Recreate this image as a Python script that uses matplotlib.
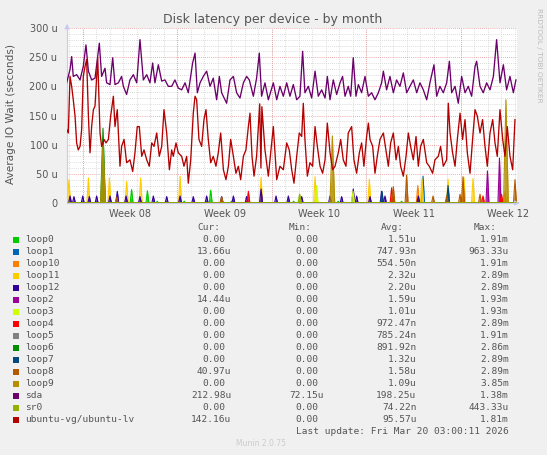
import numpy as np
import matplotlib.pyplot as plt
from matplotlib.patches import Rectangle

# time in days since Monday 2026-02-16 (start of Week 08), values in microseconds
sda_days = [-1.21, -0.96, -0.84, -0.72, -0.47, -0.22, 0.02, 0.22, 0.40, 0.64, 0.89, 1.21, 1.38, 1.63, 1.75,
            2.00, 2.20, 2.37, 2.62, 2.86, 2.99, 3.23, 3.48, 3.73, 3.98, 4.22, 4.47, 4.72, 4.96, 5.16, 5.33,
            5.58, 5.83, 6.07, 6.32, 6.57, 6.81, 7.06, 7.31, 7.56, 7.80, 8.12, 8.30, 8.47, 8.67, 8.91, 9.16,
            9.41, 9.65, 9.90, 10.10, 10.27, 10.52, 10.64, 10.89, 11.14, 11.38, 11.63, 11.88, 12.12, 12.32,
            12.62, 12.86, 13.06, 13.23, 13.48, 13.73, 14.10, 14.35, 14.59, 14.84, 15.09, 15.33, 15.58, 15.83,
            16.07, 16.27, 16.44, 16.69, 16.94, 17.19, 17.43, 17.68, 17.93, 18.10, 18.30, 18.54, 18.79, 19.04,
            19.23, 19.41, 19.65, 19.83, 20.02, 20.22, 20.40, 20.64, 20.89, 21.14, 21.38, 21.63, 21.88, 22.12,
            22.25, 22.49, 22.74, 22.99, 23.23, 23.48, 23.73, 23.98, 24.22, 24.47, 24.72, 24.96, 25.21, 25.46,
            25.70, 26.00, 26.20, 26.44, 26.69, 26.94, 27.14, 27.31, 27.56, 27.80, 28.05, 28.30, 28.54, 28.79,
            29.04, 29.16, 29.41, 29.65, 29.90, 30.15, 30.40, 30.64, 30.89, 31.14, 31.38, 31.63, 31.88, 32.07]
sda_vals = [206, 229, 251, 217, 220, 211, 234, 271, 226, 211, 214, 274, 217, 231, 206,
            203, 249, 203, 206, 217, 200, 186, 211, 220, 206, 280, 211, 220, 206, 240, 206,
            237, 209, 211, 200, 200, 211, 197, 194, 206, 189, 240, 257, 189, 206, 217, 226,
            200, 214, 177, 217, 189, 177, 171, 211, 217, 189, 180, 206, 217, 211,
            183, 214, 257, 183, 206, 177, 206, 177, 200, 183, 206, 183, 203, 177,
            183, 260, 189, 200, 180, 226, 183, 194, 180, 217, 177, 211, 186, 206,
            217, 183, 200, 183, 249, 183, 203, 189, 217, 183, 189, 177, 189, 206,
            226, 194, 217, 189, 211, 200, 223, 189, 200, 211, 189, 206, 194, 177,
            206, 237, 183, 200, 189, 206, 243, 189, 200, 171, 217, 189, 200, 183,
            234, 243, 200, 189, 206, 194, 217, 280, 206, 237, 194, 217, 189, 211]

lv_days = [-1.21, -1.09, -0.96, -0.84, -0.72, -0.59, -0.47, -0.35, -0.22, -0.10, 0.02, 0.15, 0.27, 0.40,
           0.52, 0.64, 0.77, 0.89, 1.09, 1.26, 1.38, 1.56, 1.70, 1.88, 2.05, 2.25, 2.37, 2.54, 2.74, 2.86,
           3.04, 3.23, 3.48, 3.68, 3.85, 4.02, 4.17, 4.35, 4.52, 4.72, 4.91, 5.09, 5.26, 5.46, 5.65, 5.83,
           6.00, 6.20, 6.40, 6.57, 6.69, 6.89, 7.06, 7.31, 7.48, 7.68, 7.80, 7.98, 8.17, 8.30, 8.42, 8.59,
           8.79, 8.96, 9.11, 9.28, 9.46, 9.65, 9.85, 10.02, 10.20, 10.40, 10.59, 10.77, 10.94, 11.14, 11.33,
           11.51, 11.68, 11.88, 12.07, 12.25, 12.37, 12.52, 12.67, 12.86, 13.09, 13.18, 13.25, 13.48, 13.73,
           14.10, 14.35, 14.59, 14.84, 15.09, 15.28, 15.46, 15.63, 15.83, 16.02, 16.20, 16.32, 16.44, 16.62,
           16.81, 17.01, 17.19, 17.36, 17.56, 17.75, 17.93, 18.10, 18.30, 18.49, 18.67, 18.91, 19.09, 19.28,
           19.48, 19.65, 19.90, 20.07, 20.27, 20.47, 20.64, 20.81, 21.01, 21.14, 21.26, 21.46, 21.63, 21.80,
           22.00, 22.25, 22.44, 22.62, 22.79, 22.99, 23.19, 23.36, 23.53, 23.73, 23.93, 24.10, 24.27, 24.47,
           24.67, 24.84, 25.01, 25.21, 25.46, 25.65, 25.90, 26.07, 26.32, 26.49, 26.69, 26.94, 27.06, 27.19,
           27.38, 27.56, 27.73, 27.93, 28.12, 28.30, 28.47, 28.67, 28.86, 29.04, 29.21, 29.41, 29.60, 29.78,
           29.95, 30.15, 30.35, 30.52, 30.69, 30.89, 31.09, 31.26, 31.43, 31.63, 31.83, 32.00]
lv_vals = [126, 120, 217, 200, 177, 149, 103, 91, 97, 126, 217, 234, 246, 149,
           86, 131, 160, 166, 249, 120, 97, 109, 103, 109, 149, 183, 131, 160, 63, 97,
           109, 69, 74, 54, 86, 131, 131, 80, 91, 74, 63, 103, 97, 120, 80, 97,
           160, 120, 57, 91, 80, 103, 86, 80, 63, 80, 34, 74, 154, 183, 177, 109,
           97, 143, 160, 109, 69, 80, 63, 86, 120, 57, 40, 63, 109, 80, 51,
           63, 40, 80, 91, 131, 154, 80, 46, 80, 170, 60, 165, 91, 46,
           131, 40, 63, 57, 103, 91, 57, 34, 80, 120, 114, 171, 109, 46,
           69, 63, 131, 97, 63, 51, 74, 137, 86, 57, 63, 86, 109, 74,
           63, 120, 131, 74, 51, 86, 103, 63, 114, 137, 109, 97, 51, 80,
           109, 120, 91, 63, 103, 120, 74, 97, 63, 46, 80, 120, 97, 74,
           114, 63, 97, 109, 69, 63, 51, 74, 80, 97, 63, 74, 171, 120,
           86, 63, 109, 154, 109, 143, 86, 51, 109, 160, 149, 120, 143, 97,
           63, 120, 143, 103, 80, 160, 109, 80, 131, 80, 57, 143]

# short spikes of the loop devices: (day, value)
loop0_spikes = [(3.60, 23), (4.77, 21), (9.46, 22), (5.5, 3), (7.5, 3), (11.0, 3), (15.6, 3), (18.9, 3), (23.6, 3)]
loop1_spikes = [(25.19, 46), (27.04, 25)]
loop10_spikes = [(24.80, 30), (31.26, 20)]
loop11_spikes = [(-1.04, 40), (0.40, 43), (1.95, 43), (3.23, 37), (4.27, 43), (7.19, 46), (13.19, 44),
                 (17.19, 45), (21.21, 41), (25.11, 42), (27.04, 41), (28.22, 44), (28.89, 42)]
loop12_spikes = [(-0.96, 12), (-0.67, 11), (-0.02, 12), (0.47, 11), (1.01, 12), (2.00, 12), (2.54, 20),
                 (3.19, 12), (4.22, 11), (5.21, 12), (6.20, 11), (7.19, 12), (8.17, 11), (9.16, 12),
                 (10.27, 11), (11.14, 12), (12.12, 11), (13.19, 24), (14.30, 12), (15.21, 12), (16.20, 11),
                 (18.30, 12), (19.16, 11), (20.02, 24), (20.27, 12), (21.26, 11), (22.12, 20), (22.37, 12),
                 (22.99, 11), (24.84, 12)]
loop2_spikes = [(29.96, 55), (30.85, 77)]
loop3_spikes = [(17.30, 30), (20.00, 20)]
loop4_spikes = [(12.25, 20), (22.86, 26), (29.63, 12), (31.00, 15)]
loop5_spikes = []
loop6_spikes = [(1.48, 128)]
loop7_spikes = [(22.15, 20), (27.04, 30)]
loop8_spikes = [(2.50, 10), (10.27, 11), (22.99, 28), (23.97, 48), (25.93, 12), (26.94, 12),
                (27.93, 15), (28.15, 45), (29.41, 15), (32.00, 40)]
loop9_spikes = [(1.48, 100), (18.47, 115), (31.33, 177)]
sr0_spikes = [(16.05, 15)]

names = ["loop0", "loop1", "loop10", "loop11", "loop12", "loop2", "loop3", "loop4", "loop5",
         "loop6", "loop7", "loop8", "loop9", "sda", "sr0", "ubuntu-vg/ubuntu-lv"]
colors = ["#00CC00", "#0066B3", "#FF8000", "#FFCC00", "#330099", "#990099", "#CCFF00", "#FF0000",
          "#808080", "#008F00", "#00487D", "#B35A00", "#B38F00", "#6B006B", "#8FB300", "#B30000"]
cur = ["0.00", "13.66u", "0.00", "0.00", "0.00", "14.44u", "0.00", "0.00", "0.00", "0.00", "0.00",
       "40.97u", "0.00", "212.98u", "0.00", "142.16u"]
mins = ["0.00"] * 13 + ["72.15u", "0.00", "0.00"]
avgs = ["1.51u", "747.93n", "554.50n", "2.32u", "2.20u", "1.59u", "1.01u", "972.47n", "785.24n",
        "891.92n", "1.32u", "1.58u", "1.09u", "198.25u", "74.22n", "95.57u"]
maxs = ["1.91m", "963.33u", "1.91m", "2.89m", "2.89m", "1.93m", "1.93m", "2.89m", "1.91m", "2.86m",
        "2.89m", "2.89m", "3.85m", "1.38m", "443.33u", "1.81m"]
week_labels = ["Week 08", "Week 09", "Week 10", "Week 11", "Week 12"]

x_min, x_max = -1.185, 32.15

W, H = 547, 455
fig = plt.figure(figsize=(W / 100, H / 100), dpi=100, facecolor="#F0F0F0")
ax = fig.add_axes([67 / W, (H - 203) / H, 450 / W, 175 / H])
ax.set_facecolor("white")
ax.set_xlim(x_min, x_max)
ax.set_ylim(0, 300)

txt = "#555555"

# grid
ax.set_yticks(np.arange(0, 301, 50))
ax.set_yticks(np.arange(0, 301, 10), minor=True)
ax.set_yticklabels(["0"] + [f"{v} u" for v in range(50, 301, 50)])
ax.set_xticks(np.arange(5) * 7 + 3.5)
ax.set_xticklabels(week_labels)
ax.set_xticks(np.arange(-1, 33, 1), minor=True)
ax.grid(which="minor", color="#D0D0D0", linestyle=(0, (1, 1.5)), linewidth=0.6)
ax.grid(which="major", axis="y", color="#E89090", linestyle=(0, (1, 1.5)), linewidth=0.6)
for k in range(5):
    ax.axvline(k * 7, color="#E89090", linestyle=(0, (1, 1.5)), linewidth=0.6, zorder=0.6)
ax.set_axisbelow(True)
ax.tick_params(which="both", length=0, colors=txt, labelsize=7)
ax.tick_params(axis="y", pad=7)
ax.tick_params(axis="x", pad=4)

for s in ["top", "right"]:
    ax.spines[s].set_visible(False)
ax.spines["left"].set_color("#C8C8F0")
ax.spines["bottom"].set_color("#C8C8F0")
ax.annotate("", xy=(0, 1.04), xytext=(0, 0.98), xycoords="axes fraction",
            arrowprops=dict(arrowstyle="-|>", color="#C8C8F0", lw=0.8, mutation_scale=7))
ax.annotate("", xy=(1.012, 0), xytext=(0.995, 0), xycoords="axes fraction",
            arrowprops=dict(arrowstyle="-|>", color="#C8C8F0", lw=0.8, mutation_scale=7),
            annotation_clip=False)


def spike_series(spikes, width=0.11):
    t, v = [x_min], [0.0]
    for d, h in sorted(spikes):
        w = width * (1.6 if h > 90 else 1.0)
        t += [d - w, d, d + w]
        v += [0.0, h, 0.0]
    t.append(x_max)
    v.append(0.0)
    return np.array(t), np.array(v)


spike_lists = [loop0_spikes, loop1_spikes, loop10_spikes, loop11_spikes, loop12_spikes, loop2_spikes,
               loop3_spikes, loop4_spikes, loop5_spikes, loop6_spikes, loop7_spikes, loop8_spikes,
               loop9_spikes]
for spikes, c in zip(spike_lists, colors[:13]):
    t, v = spike_series(spikes)
    ax.fill_between(t, v, color=c, lw=0, alpha=0.85, zorder=2)
    ax.plot(t, v, color=c, lw=0.8, zorder=2)

ax.plot(sda_days, sda_vals, color=colors[13], lw=0.95, zorder=3)
t, v = spike_series(sr0_spikes)
ax.fill_between(t, v, color=colors[14], lw=0, zorder=3)
ax.plot(t, v, color=colors[14], lw=1.0, zorder=3)
ax.plot(lv_days, lv_vals, color=colors[15], lw=0.95, zorder=4)

# overlay in pixel coordinates for titles and legend
ov = fig.add_axes([0, 0, 1, 1], facecolor="none")
ov.set_xlim(0, W)
ov.set_ylim(H, 0)
ov.axis("off")

ov.text(273, 19, "Disk latency per device - by month", ha="center", va="center", fontsize=9, color=txt)
ov.text(11, 114, "Average IO Wait (seconds)", ha="center", va="center", rotation=90, fontsize=7.6, color=txt)
ov.text(539, 55, "RRDTOOL / TOBI OETIKER", ha="center", va="center", rotation=-90, fontsize=5.3,
        color="#BBBBBB")

mono = "DejaVu Sans Mono"
fs = 6.8
char_w = 0.602 * fs * 100 / 72
ov.text(220, 228, "Cur:", ha="right", va="center", family=mono, fontsize=fs, color=txt)
ov.text(312, 228, "Min:", ha="right", va="center", family=mono, fontsize=fs, color=txt)
ov.text(404, 228, "Avg:", ha="right", va="center", family=mono, fontsize=fs, color=txt)
ov.text(497, 228, "Max:", ha="right", va="center", family=mono, fontsize=fs, color=txt)


def put_value(x_end, y, s):
    # values without a unit suffix keep a blank in its place
    x = x_end if s[-1].isalpha() else x_end - char_w
    ov.text(x, y, s, ha="right", va="center", family=mono, fontsize=fs, color=txt)


for i, name in enumerate(names):
    y = 239.5 + 12 * i
    ov.add_patch(Rectangle((13, y - 3), 6, 6, color=colors[i], lw=0))
    ov.text(25, y, name, ha="left", va="center", family=mono, fontsize=fs, color=txt)
    put_value(231.5, y, cur[i])
    put_value(324, y, mins[i])
    put_value(416.5, y, avgs[i])
    put_value(509, y, maxs[i])

ov.text(509, 431.5, "Last update: Fri Mar 20 03:00:11 2026", ha="right", va="center", family=mono,
        fontsize=fs, color=txt)
ov.text(261, 444, "Munin 2.0.75", ha="center", va="center", fontsize=5.5, color="#CCCCCC")

fig.savefig("out.png", dpi=100, facecolor=fig.get_facecolor())
